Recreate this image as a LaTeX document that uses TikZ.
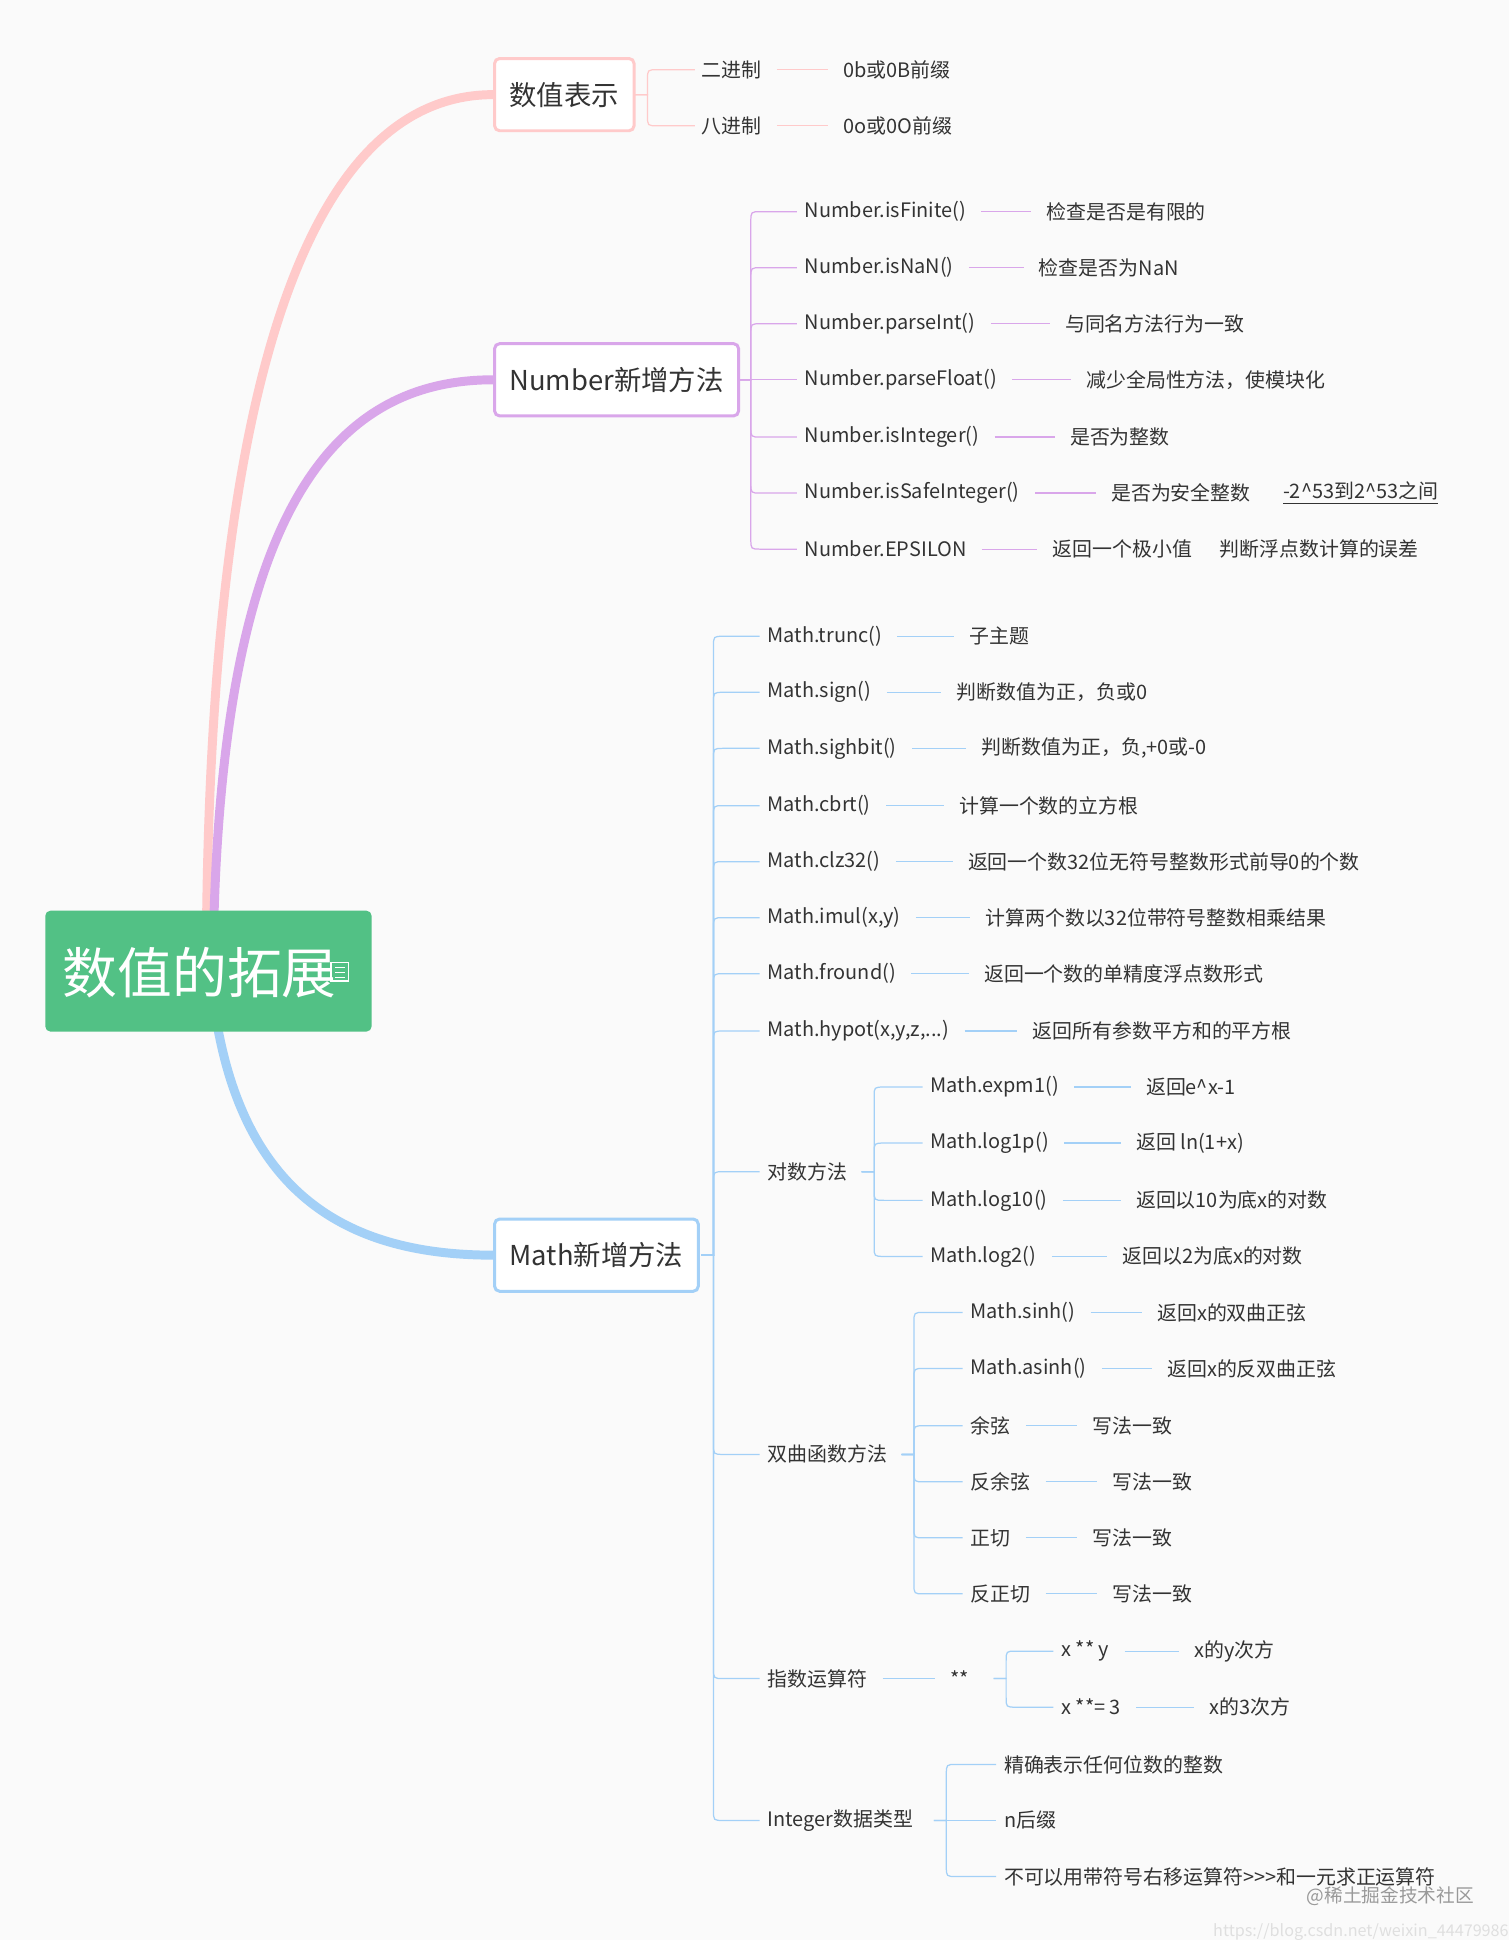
\documentclass[tikz,border=0pt]{standalone}
\usepackage{fontspec}
\setmainfont{Noto Sans CJK SC}
\definecolor{bg}{HTML}{FAFAFA}
\definecolor{pk}{HTML}{FFCACA}
\definecolor{pu}{HTML}{D9A6EA}
\definecolor{bl}{HTML}{A3D0F7}
\definecolor{gr}{HTML}{52C185}
\definecolor{tx}{HTML}{333333}
\tikzset{
 leaf/.style={anchor=west,inner sep=0pt,text=tx,font=\fontsize{8}{10}\selectfont},
 box/.style={draw,line width=1.2pt,rounded corners=2pt,fill=white,text=tx,font=\fontsize{11}{13}\selectfont,minimum height=29pt,anchor=west,inner xsep=6pt},
 trunk/.style={line width=3.6pt,line cap=round},
 thin/.style={line width=0.5pt}
}
\newcommand\brc[5]{%
 \draw[thin,#5] (#1,#2) -- ({#1+10},#2) -- ({#1+10},{#4+((#2<#4)?-8:8)*(abs(#4-#2)>8)}) .. controls ({#1+10},#4) .. ({#1+18},#4) -- (#3,#4);}
\newcommand\lk[3]{\draw[thin,#3] ([xshift=6pt]#1.east) -- ([xshift=-6pt]#2.west);}
\begin{document}
\begin{tikzpicture}[x=0.5pt,y=-0.5pt]
\fill[bg] (0,0) rectangle (1212,1558);
\useasboundingbox (0,0) rectangle (1212,1558);
% trunks
\draw[trunk,pk] (166,731) .. controls (172,300) and (250,76) .. (396,76);
\draw[trunk,pu] (172,731) .. controls (182,420) and (262,305) .. (396,305);
\draw[trunk,bl] (175,826) .. controls (200,960) and (280,1008) .. (396,1008);
% root
\node[fill=gr,rounded corners=2pt,minimum width=131pt,minimum height=48.5pt,anchor=north west,inner sep=0pt] (root) at (36,731) {};
\node[anchor=west,text=white,font=\fontsize{22}{26}\selectfont,inner sep=0pt] (rt) at (50,781) {数值的拓展};
\draw[white,line width=0.6pt] (266,773) rectangle (280,788);
\foreach \yy in {777,781,785} \draw[white,line width=0.5pt] (269,\yy) -- (277,\yy);
% branch 1
\node[box,draw=pk] (b1) at (396,76) {数值表示};
\foreach \n/\y/\a/\b/\vx in {a1/56/二进制/0b或0B前缀/677,a2/101/八进制/0o或0O前缀/677}{
 \node[leaf] (\n) at (563,\y) {\a};
 \node[leaf] (\n v) at (\vx,\y) {\b};
 \lk{\n}{\n v}{pk}
 \brc{510}{76}{558}{\y}{pk}
}
% branch 2
\node[box,draw=pu] (b2) at (396,305) {Number新增方法};
\foreach \n/\y/\a/\b/\vx in {
 c1/170/Number.isFinite()/检查是否是有限的/840,
 c2/215/Number.isNaN()/检查是否为NaN/834,
 c3/260/Number.parseInt()/与同名方法行为一致/855,
 c4/305/Number.parseFloat()/减少全局性方法，使模块化/872,
 c5/351/Number.isInteger()/是否为整数/859,
 c6/396/Number.isSafeInteger()/是否为安全整数/892,
 c7/441/Number.EPSILON/返回一个极小值/845}{
 \node[leaf] (\n) at (646,\y) {\a};
 \node[leaf] (\n v) at (\vx,\y) {\b};
 \lk{\n}{\n v}{pu}
 \brc{593}{305}{640}{\y}{pu}
}
\node[leaf] (c6w) at (1030,396) {\underline{-2\textasciicircum53到2\textasciicircum53之间}};
\node[leaf] (c7w) at (979,441) {判断浮点数计算的误差};
% branch 3
\node[box,draw=bl] (b3) at (396,1008) {Math新增方法};
\foreach \n/\y/\a/\b/\vx in {
 d1/511/Math.trunc()/子主题/778,
 d2/556/Math.sign()/判断数值为正，负或0/768,
 d3/601/Math.sighbit()/{判断数值为正，负,+0或-0}/788,
 d4/647/Math.cbrt()/计算一个数的立方根/770,
 d5/692/Math.clz32()/返回一个数32位无符号整数形式前导0的个数/777,
 d6/737/{Math.imul(x,y)}/计算两个数以32位带符号整数相乘结果/791,
 d7/782/Math.fround()/返回一个数的单精度浮点数形式/790,
 d8/828/{Math.hypot(x,y,z,...)}/返回所有参数平方和的平方根/829}{
 \node[leaf] (\n) at (616,\y) {\a};
 \node[leaf] (\n v) at (\vx,\y) {\b};
 \lk{\n}{\n v}{bl}
 \brc{563}{1008}{610}{\y}{bl}
}
\foreach \n/\y/\a in {e1/941/对数方法,e2/1168/双曲函数方法,e3/1348/指数运算符,e4/1462/Integer数据类型}{
 \node[leaf] (\n) at (616,\y) {\a};
 \brc{563}{1008}{610}{\y}{bl}
}
\foreach \n/\y/\a/\b/\vx in {
 f1/873/Math.expm1()/返回e\textasciicircum x-1/920,
 f2/918/Math.log1p()/返回 ln(1+x)/912,
 f3/964/Math.log10()/返回以10为底x的对数/912,
 f4/1009/Math.log2()/返回以2为底x的对数/901}{
 \node[leaf] (\n) at (747,\y) {\a};
 \node[leaf] (\n v) at (\vx,\y) {\b};
 \lk{\n}{\n v}{bl}
 \brc{692}{941}{741}{\y}{bl}
}
\foreach \n/\y/\a/\b/\vx in {
 g1/1054/Math.sinh()/返回x的双曲正弦/929,
 g2/1099/Math.asinh()/返回x的反双曲正弦/937,
 g3/1145/余弦/写法一致/877,
 g4/1190/反余弦/写法一致/893,
 g5/1235/正切/写法一致/877,
 g6/1280/反正切/写法一致/893}{
 \node[leaf] (\n) at (779,\y) {\a};
 \node[leaf] (\n v) at (\vx,\y) {\b};
 \lk{\n}{\n v}{bl}
 \brc{724}{1168}{773}{\y}{bl}
}
\node[leaf] (st) at (763,1348) {**};
\lk{e3}{st}{bl}
\foreach \n/\y/\a/\b/\vx in {
 h1/1326/x ** y/x的y次方/959,
 h2/1371/x **= 3/x的3次方/971}{
 \node[leaf] (\n) at (852,\y) {\a};
 \node[leaf] (\n v) at (\vx,\y) {\b};
 \lk{\n}{\n v}{bl}
 \brc{798}{1348}{846}{\y}{bl}
}
\foreach \n/\y/\a in {
 k1/1417/精确表示任何位数的整数,
 k2/1462/n后缀,
 k3/1507/不可以用带符号右移运算符>{}>{}>和一元求正运算符}{
 \node[leaf] (\n) at (806,\y) {\a};
 \brc{750}{1462}{800}{\y}{bl}
}
\node[anchor=east,inner sep=0pt,text=gray!80,font=\fontsize{7.5}{9}\selectfont] (wm) at (1184,1523) {@稀土掘金技术社区};
\node[anchor=east,inner sep=0pt,text=gray!25,font=\fontsize{6.5}{8}\selectfont] (wm2) at (1212,1552) {https://blog.csdn.net/weixin\_44479986};
\end{tikzpicture}
\end{document}
